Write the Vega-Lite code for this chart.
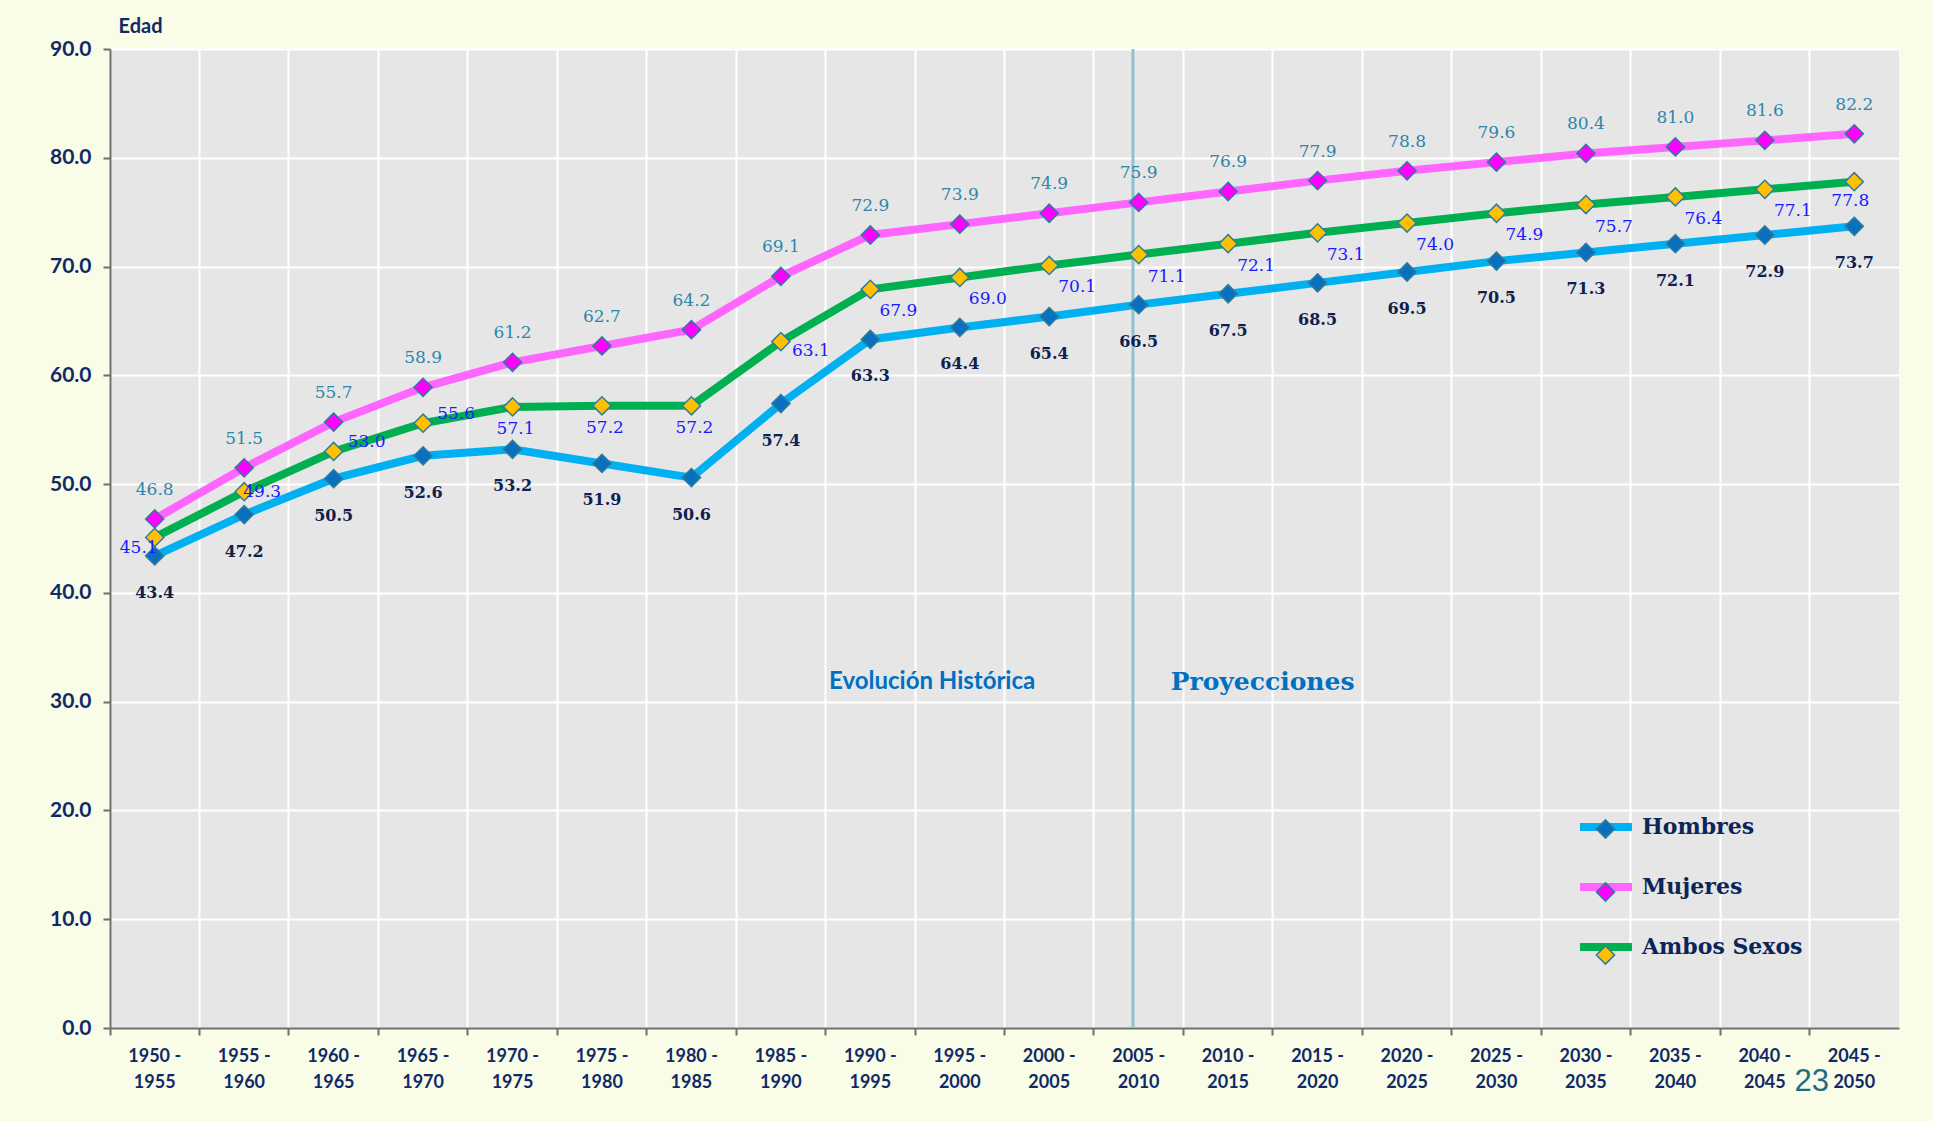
{
  "$schema": "https://vega.github.io/schema/vega-lite/v6.json",
  "width": 1789,
  "height": 979,
  "autosize": {"type": "none"},
  "padding": {"left": 110, "top": 49, "right": 34, "bottom": 93},
  "background": "#F9FCE6",
  "config": {
    "view": {"fill": "#E6E6E6", "stroke": null}
  },
  "title": {"text": "23", "orient": "bottom", "anchor": "end", "font": "Liberation Sans", "fontSize": 31, "fontWeight": "normal", "color": "#1A6E82", "dx": -70, "dy": -24, "offset": 0},
  "data": {
    "values": [
      {"periodo": "1950 - 1955", "serie": "Hombres", "edad": 43.4},
      {"periodo": "1955 - 1960", "serie": "Hombres", "edad": 47.2},
      {"periodo": "1960 - 1965", "serie": "Hombres", "edad": 50.5},
      {"periodo": "1965 - 1970", "serie": "Hombres", "edad": 52.6},
      {"periodo": "1970 - 1975", "serie": "Hombres", "edad": 53.2},
      {"periodo": "1975 - 1980", "serie": "Hombres", "edad": 51.9},
      {"periodo": "1980 - 1985", "serie": "Hombres", "edad": 50.6},
      {"periodo": "1985 - 1990", "serie": "Hombres", "edad": 57.4},
      {"periodo": "1990 - 1995", "serie": "Hombres", "edad": 63.3},
      {"periodo": "1995 - 2000", "serie": "Hombres", "edad": 64.4},
      {"periodo": "2000 - 2005", "serie": "Hombres", "edad": 65.4},
      {"periodo": "2005 - 2010", "serie": "Hombres", "edad": 66.5},
      {"periodo": "2010 - 2015", "serie": "Hombres", "edad": 67.5},
      {"periodo": "2015 - 2020", "serie": "Hombres", "edad": 68.5},
      {"periodo": "2020 - 2025", "serie": "Hombres", "edad": 69.5},
      {"periodo": "2025 - 2030", "serie": "Hombres", "edad": 70.5},
      {"periodo": "2030 - 2035", "serie": "Hombres", "edad": 71.3},
      {"periodo": "2035 - 2040", "serie": "Hombres", "edad": 72.1},
      {"periodo": "2040 - 2045", "serie": "Hombres", "edad": 72.9},
      {"periodo": "2045 - 2050", "serie": "Hombres", "edad": 73.7},
      {"periodo": "1950 - 1955", "serie": "Mujeres", "edad": 46.8},
      {"periodo": "1955 - 1960", "serie": "Mujeres", "edad": 51.5},
      {"periodo": "1960 - 1965", "serie": "Mujeres", "edad": 55.7},
      {"periodo": "1965 - 1970", "serie": "Mujeres", "edad": 58.9},
      {"periodo": "1970 - 1975", "serie": "Mujeres", "edad": 61.2},
      {"periodo": "1975 - 1980", "serie": "Mujeres", "edad": 62.7},
      {"periodo": "1980 - 1985", "serie": "Mujeres", "edad": 64.2},
      {"periodo": "1985 - 1990", "serie": "Mujeres", "edad": 69.1},
      {"periodo": "1990 - 1995", "serie": "Mujeres", "edad": 72.9},
      {"periodo": "1995 - 2000", "serie": "Mujeres", "edad": 73.9},
      {"periodo": "2000 - 2005", "serie": "Mujeres", "edad": 74.9},
      {"periodo": "2005 - 2010", "serie": "Mujeres", "edad": 75.9},
      {"periodo": "2010 - 2015", "serie": "Mujeres", "edad": 76.9},
      {"periodo": "2015 - 2020", "serie": "Mujeres", "edad": 77.9},
      {"periodo": "2020 - 2025", "serie": "Mujeres", "edad": 78.8},
      {"periodo": "2025 - 2030", "serie": "Mujeres", "edad": 79.6},
      {"periodo": "2030 - 2035", "serie": "Mujeres", "edad": 80.4},
      {"periodo": "2035 - 2040", "serie": "Mujeres", "edad": 81.0},
      {"periodo": "2040 - 2045", "serie": "Mujeres", "edad": 81.6},
      {"periodo": "2045 - 2050", "serie": "Mujeres", "edad": 82.2},
      {"periodo": "1950 - 1955", "serie": "Ambos Sexos", "edad": 45.1},
      {"periodo": "1955 - 1960", "serie": "Ambos Sexos", "edad": 49.3},
      {"periodo": "1960 - 1965", "serie": "Ambos Sexos", "edad": 53.0},
      {"periodo": "1965 - 1970", "serie": "Ambos Sexos", "edad": 55.6},
      {"periodo": "1970 - 1975", "serie": "Ambos Sexos", "edad": 57.1},
      {"periodo": "1975 - 1980", "serie": "Ambos Sexos", "edad": 57.2},
      {"periodo": "1980 - 1985", "serie": "Ambos Sexos", "edad": 57.2},
      {"periodo": "1985 - 1990", "serie": "Ambos Sexos", "edad": 63.1},
      {"periodo": "1990 - 1995", "serie": "Ambos Sexos", "edad": 67.9},
      {"periodo": "1995 - 2000", "serie": "Ambos Sexos", "edad": 69.0},
      {"periodo": "2000 - 2005", "serie": "Ambos Sexos", "edad": 70.1},
      {"periodo": "2005 - 2010", "serie": "Ambos Sexos", "edad": 71.1},
      {"periodo": "2010 - 2015", "serie": "Ambos Sexos", "edad": 72.1},
      {"periodo": "2015 - 2020", "serie": "Ambos Sexos", "edad": 73.1},
      {"periodo": "2020 - 2025", "serie": "Ambos Sexos", "edad": 74.0},
      {"periodo": "2025 - 2030", "serie": "Ambos Sexos", "edad": 74.9},
      {"periodo": "2030 - 2035", "serie": "Ambos Sexos", "edad": 75.7},
      {"periodo": "2035 - 2040", "serie": "Ambos Sexos", "edad": 76.4},
      {"periodo": "2040 - 2045", "serie": "Ambos Sexos", "edad": 77.1},
      {"periodo": "2045 - 2050", "serie": "Ambos Sexos", "edad": 77.8}
    ]
  },
  "encoding": {
    "x": {
      "field": "periodo", "type": "nominal", "bandPosition": 0.5,
      "scale": {"type": "band", "paddingInner": 0, "paddingOuter": 0},
      "axis": {
        "title": null, "labelAngle": 0, "grid": true, "bandPosition": 0,
        "gridColor": "#FFFFFF", "gridWidth": 2, "gridOpacity": 1,
        "domainColor": "#6F6F6F", "domainWidth": 2, "tickColor": "#6F6F6F", "tickWidth": 2, "tickSize": 7,
        "labelFont": "Lato", "labelFontWeight": "bold", "labelFontSize": 18, "labelColor": "#0F2A66",
        "labelPadding": 12, "labelLineHeight": 26,
        "labelExpr": "[slice(datum.label, 0, 6), slice(datum.label, 7)]"
      }
    },
    "y": {
      "field": "edad", "type": "quantitative",
      "scale": {"domain": [0, 90], "nice": false, "zero": true},
      "axis": {
        "title": "Edad", "titleAngle": 0, "titleX": 8, "titleY": -17, "titleAlign": "left", "titleBaseline": "alphabetic",
        "titleFont": "Lato", "titleFontSize": 20, "titleFontWeight": "bold", "titleColor": "#0F2A66",
        "values": [0, 10, 20, 30, 40, 50, 60, 70, 80, 90], "format": ".1f",
        "grid": true, "gridColor": "#FFFFFF", "gridWidth": 2, "gridOpacity": 1,
        "domainColor": "#6F6F6F", "domainWidth": 2, "tickColor": "#6F6F6F", "tickWidth": 2, "tickSize": 7,
        "labelFont": "Lato", "labelFontWeight": "bold", "labelFontSize": 21, "labelColor": "#0F2A66", "labelPadding": 12
      }
    }
  },
  "layer": [
    {
      "data": {"values": [{"periodo": "2005 - 2010", "desde": 0, "hasta": 90}]},
      "mark": {"type": "rule", "stroke": "#8DC3D0", "strokeWidth": 3},
      "encoding": {
        "x": {"field": "periodo", "type": "nominal", "bandPosition": 0.436},
        "y": {"field": "desde", "type": "quantitative"},
        "y2": {"field": "hasta"}
      }
    },
    {
      "mark": {"type": "line", "strokeWidth": 8},
      "encoding": {
        "stroke": {"field": "serie", "type": "nominal",
          "scale": {"domain": ["Hombres", "Mujeres", "Ambos Sexos"], "range": ["#00B0F0", "#FF66FF", "#00B050"]},
          "legend": {"title": null, "orient": "none", "legendX": 1466, "legendY": 748, "padding": 0,
            "symbolType": "stroke", "symbolSize": 2700, "symbolStrokeWidth": 8, "rowPadding": 14, "labelLimit": 400,
            "labelFont": "DejaVu Serif", "labelFontWeight": "bold", "labelFontSize": 22, "labelColor": "#0B2559", "labelOffset": 6}}
      }
    },
    {
      "mark": {"type": "point", "shape": "diamond", "filled": true, "size": 330, "stroke": "#2E7C9A", "strokeWidth": 1.5, "opacity": 1},
      "encoding": {
        "fill": {"field": "serie", "type": "nominal",
          "scale": {"range": ["#FFC000", "#0B6FC0", "#FF00FF"]},
          "legend": {"title": null, "orient": "none", "legendX": 1485.5, "legendY": 770, "padding": 0,
            "values": ["Hombres", "Mujeres", "Ambos Sexos"],
            "symbolType": "diamond", "symbolSize": 330, "symbolStrokeColor": "#2E7C9A", "symbolStrokeWidth": 1.5,
            "rowPadding": 37, "labelOpacity": 0, "labelFontSize": 1}}
      }
    },
    {
      "transform": [{"filter": "datum.serie == 'Mujeres'"}],
      "mark": {"type": "text", "font": "DejaVu Serif", "fontSize": 17, "color": "#2E86AB", "dy": -29, "baseline": "middle"},
      "encoding": {"text": {"field": "edad", "type": "quantitative", "format": ".1f"}}
    },
    {
      "transform": [{"filter": "datum.serie == 'Hombres'"}],
      "mark": {"type": "text", "font": "DejaVu Serif", "fontSize": 16, "fontWeight": "bold", "color": "#0F1F4F", "dy": 37, "baseline": "middle"},
      "encoding": {"text": {"field": "edad", "type": "quantitative", "format": ".1f"}}
    },
    {
      "transform": [{"filter": "datum.serie == 'Ambos Sexos' && datum.periodo == '1950 - 1955'"}],
      "mark": {"type": "text", "font": "DejaVu Serif", "fontSize": 17, "color": "#1A1AFF", "dx": -16, "dy": 11, "baseline": "middle"},
      "encoding": {"text": {"field": "edad", "type": "quantitative", "format": ".1f"}}
    },
    {
      "transform": [{"filter": "datum.serie == 'Ambos Sexos' && datum.periodo == '1955 - 1960'"}],
      "mark": {"type": "text", "font": "DejaVu Serif", "fontSize": 17, "color": "#1A1AFF", "dx": 18, "dy": 0, "baseline": "middle"},
      "encoding": {"text": {"field": "edad", "type": "quantitative", "format": ".1f"}}
    },
    {
      "transform": [{"filter": "datum.serie == 'Ambos Sexos' && (datum.periodo == '1960 - 1965' || datum.periodo == '1965 - 1970')"}],
      "mark": {"type": "text", "font": "DejaVu Serif", "fontSize": 17, "color": "#1A1AFF", "dx": 33, "dy": -9, "baseline": "middle"},
      "encoding": {"text": {"field": "edad", "type": "quantitative", "format": ".1f"}}
    },
    {
      "transform": [{"filter": "datum.serie == 'Ambos Sexos' && (datum.periodo == '1970 - 1975' || datum.periodo == '1975 - 1980' || datum.periodo == '1980 - 1985')"}],
      "mark": {"type": "text", "font": "DejaVu Serif", "fontSize": 17, "color": "#1A1AFF", "dx": 3, "dy": 22, "baseline": "middle"},
      "encoding": {"text": {"field": "edad", "type": "quantitative", "format": ".1f"}}
    },
    {
      "transform": [{"filter": "datum.serie == 'Ambos Sexos' && datum.periodo == '1985 - 1990'"}],
      "mark": {"type": "text", "font": "DejaVu Serif", "fontSize": 17, "color": "#1A1AFF", "dx": 30, "dy": 9, "baseline": "middle"},
      "encoding": {"text": {"field": "edad", "type": "quantitative", "format": ".1f"}}
    },
    {
      "transform": [{"filter": "datum.serie == 'Ambos Sexos' && datum.periodo == '2045 - 2050'"}],
      "mark": {"type": "text", "font": "DejaVu Serif", "fontSize": 17, "color": "#1A1AFF", "dx": -4, "dy": 19, "baseline": "middle"},
      "encoding": {"text": {"field": "edad", "type": "quantitative", "format": ".1f"}}
    },
    {
      "transform": [{"filter": "datum.serie == 'Ambos Sexos' && datum.periodo >= '1990 - 1995' && datum.periodo <= '2040 - 2045'"}],
      "mark": {"type": "text", "font": "DejaVu Serif", "fontSize": 17, "color": "#1A1AFF", "dx": 28, "dy": 22, "baseline": "middle"},
      "encoding": {"text": {"field": "edad", "type": "quantitative", "format": ".1f"}}
    },
    {
      "data": {"values": [{"periodo": "2000 - 2005", "edad": 31.8, "texto": "Evolución Histórica"}]},
      "mark": {"type": "text", "font": "Lato", "fontSize": 24, "fontWeight": "bold", "color": "#0070C0", "align": "right", "dx": -14, "baseline": "middle"},
      "encoding": {"text": {"field": "texto", "type": "nominal"}}
    },
    {
      "data": {"values": [{"periodo": "2005 - 2010", "edad": 31.8, "texto": "Proyecciones"}]},
      "mark": {"type": "text", "font": "DejaVu Serif", "fontSize": 25, "fontWeight": "bold", "color": "#0070C0", "align": "left", "dx": 32, "baseline": "middle"},
      "encoding": {"text": {"field": "texto", "type": "nominal"}}
    }
  ]
}
